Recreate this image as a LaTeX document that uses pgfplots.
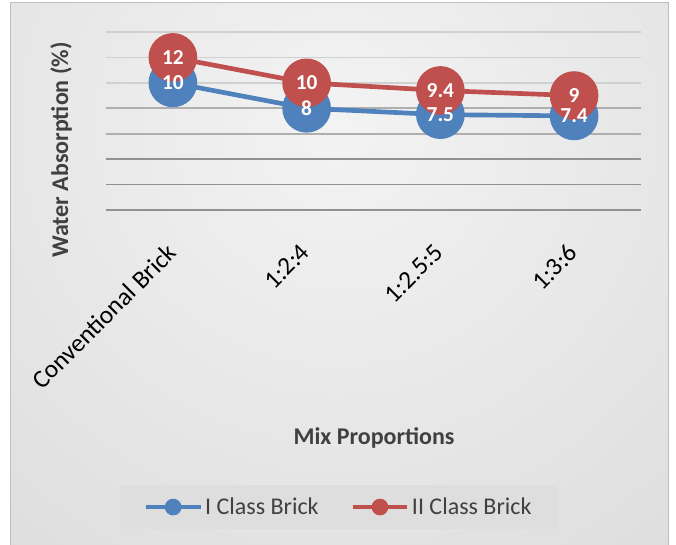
\documentclass[border=0pt]{standalone}
\usepackage{pgfplots}
\pgfplotsset{compat=1.18}
\usepackage{fontspec}
\setmainfont{Carlito}
\definecolor{sblue}{HTML}{4F81BD}
\definecolor{sred}{HTML}{C0504D}
\definecolor{txt}{HTML}{404040}
\definecolor{legbg}{HTML}{DEDEDE}
\begin{document}
\begin{tikzpicture}[x=0.75pt,y=0.75pt]
\useasboundingbox (0,0) rectangle (676,545);
\begin{scope}
\clip (10,0) rectangle (668,542);
\shade[inner color={rgb,255:red,243;green,243;blue,243}, outer color={rgb,255:red,204;green,204;blue,204}] (338,420) circle (1000);
\end{scope}
\draw[color={rgb,255:red,190;green,190;blue,190}, line width=0.75pt] (10,-5) rectangle (668,542);
\begin{axis}[
  at={(79.5pt,251.25pt)}, anchor=south west,
  scale only axis, width=401.25pt, height=133.5pt,
  xmin=-0.5, xmax=3.5, ymin=0, ymax=14,
  /pgf/number format/assume math mode=true,
  xtick={0,1,2,3},
  xticklabels={Conventional Brick,1:2:4,1:2.5:5,1:3:6},
  xticklabel style={xshift=-5.5pt, yshift=-24pt, rotate=45, anchor=north east, inner sep=0pt, font=\fontsize{19}{21}\selectfont, text=black},
  ytick={0,2,4}, yticklabels={},
  minor ytick={6,8},
  extra y ticks={10,12,14}, extra y tick labels={},
  ymajorgrids, yminorgrids,
  major grid style={line width=1.3pt, color={rgb,255:red,145;green,145;blue,145}},
  minor grid style={line width=1.3pt, color={rgb,255:red,175;green,175;blue,175}},
  extra y tick style={major grid style={line width=1.3pt, color={rgb,255:red,208;green,208;blue,208}}},
  axis line style={draw=none}, tick style={draw=none},
  xlabel={Mix Proportions}, ylabel={Water Absorption (\%)},
  label style={font=\bfseries\fontsize{18}{20}\selectfont, text=txt},
  xlabel style={at={(axis description cs:0.501,-1.281)}, anchor=center},
  ylabel style={at={(axis description cs:-0.084,0.337)}, anchor=center},
  legend style={at={(axis description cs:0.4355,-1.669)}, anchor=center, legend columns=2, fill=legbg, draw=none, font=\fontsize{18}{20}\selectfont, text=txt, inner xsep=18pt, inner ysep=7.5pt, /tikz/every even column/.append style={column sep=22pt}},
  legend cell align=left,
  clip=false,
]
\addplot[color=sblue, line width=3.5pt, mark=*, mark size=16.5pt, mark options={draw=none, fill=sblue},
  legend image code/.code={\draw[sblue, line width=3pt] (0pt,0pt) -- (41pt,0pt); \fill[sblue] (20.5pt,0pt) circle (4.5pt);}]
  coordinates {(0,10) (1,8) (2,7.5) (3,7.4)};
\addlegendentry{I Class Brick}
\addplot[color=sred, line width=3.5pt, mark=*, mark size=16.5pt, mark options={draw=none, fill=sred},
  legend image code/.code={\draw[sred, line width=3pt] (0pt,0pt) -- (41pt,0pt); \fill[sred] (20.5pt,0pt) circle (4.5pt);}]
  coordinates {(0,12) (1,10) (2,9.4) (3,9)};
\addlegendentry{II Class Brick}
\addplot[draw=none, mark=none, forget plot, nodes near coords, every node near coord/.append style={anchor=center, text=white, font=\bfseries\fontsize{16}{18}\selectfont}]
  coordinates {(0,10) (1,8) (2,7.5) (3,7.4)};
\addplot[draw=none, mark=none, forget plot, nodes near coords, every node near coord/.append style={anchor=center, text=white, font=\bfseries\fontsize{16}{18}\selectfont}]
  coordinates {(0,12) (1,10) (2,9.4) (3,9)};
\end{axis}
\end{tikzpicture}
\end{document}
